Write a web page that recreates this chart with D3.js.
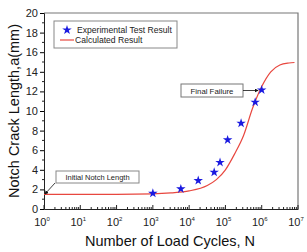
<!DOCTYPE html>
<html lang="en">
<head>
<script src="https://d3js.org/d3.v7.min.js"></script>
<style>
  body { margin:0; background:#fff; }
  text { font-family: "Liberation Sans", Arial, sans-serif; }
</style>
</head>
<body>
<script>
// experimental points (N, a in mm)
var expN = [1000, 5900, 17800, 49000, 71000, 115000, 270000, 660000, 1000000];
var expA = [1.6, 2.05, 2.9, 3.75, 4.75, 7.05, 8.75, 10.9, 12.15];
// calculated curve
var calcN = [1, 10, 100, 1000, 3162, 10000, 31623, 56234, 100000, 177828, 316228, 562341, 1000000, 1778279, 3162278, 5623413, 8000000];
var calcA = [1.5, 1.5, 1.5, 1.55, 1.65, 1.85, 2.4, 3.0, 4.0, 5.6, 7.5, 10.3, 12.5, 14.0, 14.7, 14.9, 14.95];
var yTicks = [0, 2, 4, 6, 8, 10, 12, 14, 16, 18, 20];
var xExp = [0, 1, 2, 3, 4, 5, 6, 7];

var w = 307, h = 252;
var m = {left:44, top:13, right:298, bottom:209};

var svg = d3.select("body").append("svg")
  .attr("width", w).attr("height", h);

var x = d3.scaleLog().domain([1, 1e7]).range([m.left, m.right]);
var y = d3.scaleLinear().domain([0, 20]).range([m.bottom, m.top]);

// frame (top/right grey)
svg.append("path")
  .attr("d", "M" + m.left + "," + m.top + "H" + m.right + "V" + m.bottom)
  .attr("fill", "none").attr("stroke", "#777").attr("stroke-width", 1.2);

// y axis
var yAx = svg.append("g").attr("transform", "translate(" + m.left + ",0)")
  .call(d3.axisLeft(y).tickValues(yTicks).tickSize(4).tickPadding(2));
yAx.selectAll("text").attr("font-size", 11).attr("fill", "#222");
yAx.select(".domain").attr("stroke", "#222");
svg.append("g").selectAll("line").data(d3.range(1, 20, 2)).join("line")
  .attr("x1", m.left - 2).attr("x2", m.left)
  .attr("y1", function(d){ return y(d); }).attr("y2", function(d){ return y(d); })
  .attr("stroke", "#222");

// x axis, ticks pointing up
var xAx = svg.append("g").attr("transform", "translate(0," + m.bottom + ")")
  .call(d3.axisBottom(x).tickValues(xExp.map(function(e){ return Math.pow(10, e); }))
    .tickSize(0).tickFormat(""));
xAx.select(".domain").attr("stroke", "#222");
var minor = [];
for (var e = 0; e < 7; e++) {
  for (var k = 2; k <= 9; k++) minor.push(k * Math.pow(10, e));
}
svg.append("g").selectAll("line").data(minor).join("line")
  .attr("x1", function(d){ return x(d); }).attr("x2", function(d){ return x(d); })
  .attr("y1", m.bottom).attr("y2", m.bottom - 2)
  .attr("stroke", "#222");
svg.append("g").selectAll("line").data(xExp).join("line")
  .attr("x1", function(d){ return x(Math.pow(10, d)); }).attr("x2", function(d){ return x(Math.pow(10, d)); })
  .attr("y1", m.bottom).attr("y2", m.bottom - 4)
  .attr("stroke", "#222");
var xl = svg.append("g").selectAll("text").data(xExp).join("text")
  .attr("x", function(d){ return x(Math.pow(10, d)) - 2; })
  .attr("y", 226).attr("text-anchor", "middle")
  .attr("font-size", 11).attr("fill", "#222");
xl.append("tspan").text("10");
xl.append("tspan").attr("dy", -5).attr("font-size", 6).text(function(d){ return d; });

// axis titles
svg.append("text").attr("x", 170).attr("y", 246).attr("text-anchor", "middle")
  .attr("font-size", 14.5).attr("fill", "#111").text("Number of Load Cycles, N");
svg.append("text").attr("transform", "translate(19," + 111 + ") rotate(-90)")
  .attr("text-anchor", "middle").attr("font-size", 14.5).attr("fill", "#111")
  .text("Notch Crack Length,a(mm)");

// calculated curve
var line = d3.line()
  .x(function(d, i){ return x(calcN[i]); })
  .y(function(d){ return y(d); })
  .curve(d3.curveMonotoneX);
svg.append("path").datum(calcA).attr("d", line)
  .attr("fill", "none").attr("stroke", "#e8473f").attr("stroke-width", 1.2);

// stars
var star = d3.symbol().type(d3.symbolStar).size(28);
svg.append("g").selectAll("path").data(expA).join("path")
  .attr("d", star)
  .attr("transform", function(d, i){ return "translate(" + x(expN[i]) + "," + y(d) + ")"; })
  .attr("fill", "#1a1ae0");

// legend
svg.append("rect").attr("x", 54).attr("y", 21).attr("width", 123).attr("height", 27)
  .attr("fill", "#fff").attr("stroke", "#888");
svg.append("path").attr("d", star).attr("transform", "translate(67,30)").attr("fill", "#1a1ae0");
svg.append("line").attr("x1", 60).attr("x2", 74).attr("y1", 40).attr("y2", 40)
  .attr("stroke", "#e8473f").attr("stroke-width", 1.2);
svg.append("text").attr("x", 77).attr("y", 33).attr("font-size", 8.6).attr("fill", "#222")
  .text("Experimental Test Result");
svg.append("text").attr("x", 75).attr("y", 43).attr("font-size", 8.6).attr("fill", "#222")
  .text("Calculated Result");

// annotations
svg.append("defs").append("marker").attr("id", "ah")
  .attr("viewBox", "0 0 6 6").attr("refX", 5).attr("refY", 3)
  .attr("markerWidth", 5).attr("markerHeight", 5).attr("orient", "auto")
  .append("path").attr("d", "M0,0L6,3L0,6Z").attr("fill", "#111");

svg.append("rect").attr("x", 181).attr("y", 84).attr("width", 62).attr("height", 13)
  .attr("fill", "#fff").attr("stroke", "#777");
svg.append("text").attr("x", 212).attr("y", 93.5).attr("text-anchor", "middle")
  .attr("font-size", 7.8).attr("fill", "#222").text("Final Failure");
svg.append("line").attr("x1", 243).attr("y1", 90.5).attr("x2", 258).attr("y2", 90.5)
  .attr("stroke", "#111").attr("stroke-width", 0.8).attr("marker-end", "url(#ah)");

svg.append("rect").attr("x", 56).attr("y", 171).attr("width", 83).attr("height", 12)
  .attr("fill", "#fff").attr("stroke", "#888");
svg.append("text").attr("x", 97.5).attr("y", 180).attr("text-anchor", "middle")
  .attr("font-size", 7.5).attr("fill", "#222").text("Initial Notch Length");
svg.append("line").attr("x1", 55).attr("y1", 183).attr("x2", 45).attr("y2", 194)
  .attr("stroke", "#111").attr("stroke-width", 0.8).attr("marker-end", "url(#ah)");
</script>
</body>
</html>
